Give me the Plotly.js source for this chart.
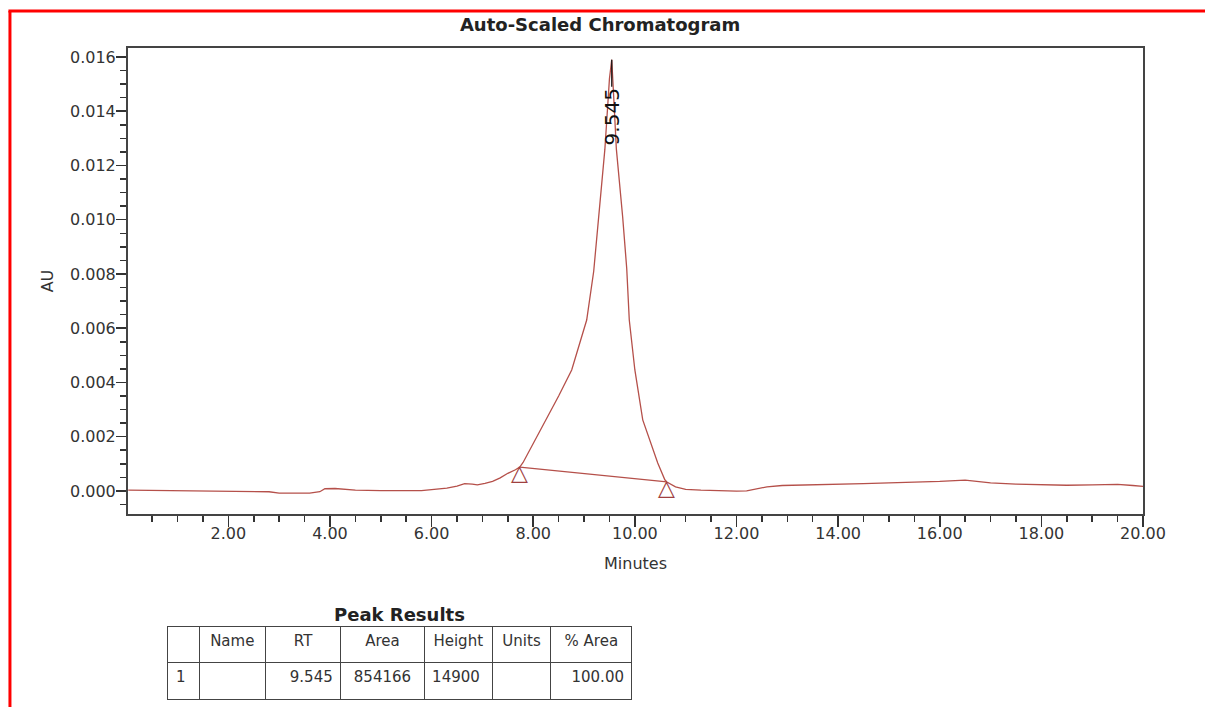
<!DOCTYPE html>
<html>
<head>
<meta charset="utf-8">
<script src="https://cdn.plot.ly/plotly-3.0.1.min.js"></script>
<style>html,body{margin:0;padding:0;background:#fff;}#chart{width:1205px;height:707px;}</style>
</head>
<body>
<div id="chart"></div>
<script>
// Chromatogram signal (minutes, AU)
const timeMin = [0.03,0.5,1.0,1.5,2.0,2.5,2.8,3.0,3.3,3.6,3.8,3.9,4.1,4.3,4.5,5.0,5.5,5.8,6.0,6.3,6.5,6.65,6.8,6.9,7.05,7.2,7.35,7.5,7.65,7.735,7.8,8.0,8.265,8.5,8.757,8.9,9.052,9.19,9.29,9.41,9.5,9.545,9.59,9.636,9.76,9.84,9.89,10.0,10.155,10.3,10.45,10.59,10.63,10.8,11.0,11.3,11.6,12.0,12.2,12.4,12.6,12.9,13.2,13.6,14.0,14.5,15.0,15.5,16.0,16.5,16.7,17.0,17.5,18.0,18.5,19.0,19.5,19.8,20.0];
const signalAU = [0.00003,0.00002,0.00001,0.00000,0.00001,0.00000,-0.00003,-0.00008,-0.00009,-0.00008,-0.00003,0.00008,0.00009,0.00007,0.00003,0.00001,0.00000,0.00001,0.00005,0.00010,0.00018,0.00027,0.00025,0.00022,0.00028,0.00035,0.00048,0.00065,0.00078,0.00088,0.00105,0.00175,0.00262,0.00350,0.00446,0.00535,0.00630,0.00810,0.01010,0.01260,0.01520,0.01590,0.01430,0.01260,0.01010,0.00820,0.00630,0.00446,0.00262,0.00180,0.00103,0.00041,0.00033,0.00015,0.00006,0.00003,0.00001,-0.00001,0.00000,0.00008,0.00015,0.00020,0.00021,0.00022,0.00024,0.00027,0.00030,0.00032,0.00035,0.00040,0.00036,0.00030,0.00025,0.00022,0.00021,0.00022,0.00024,0.00020,0.00017];

// Integration baseline (start / end markers)
const baselineTime = [7.735, 10.63];
const baselineAU = [0.00088, 0.00033];

// Peak label
const peakRT = [9.545];
const peakLabel = ['9.545'];

// Axis ticks
const xTickVals = [2,4,6,8,10,12,14,16,18,20];
const xTickText = ['2.00','4.00','6.00','8.00','10.00','12.00','14.00','16.00','18.00','20.00'];
const yTickVals = [0,0.002,0.004,0.006,0.008,0.010,0.012,0.014,0.016];
const yTickText = ['0.000','0.002','0.004','0.006','0.008','0.010','0.012','0.014','0.016'];

// Peak results table
const tableHeader = ['', 'Name', 'RT', 'Area', 'Height', 'Units', '% Area'];
const tableRow1 = ['1', '', '9.545', '854166', '14900', '', '100.00'];

const FONT = 'DejaVu Sans, Arial, sans-serif';
const LINE = '#b5504a';
const TXT = '#333333';

const peakHeight = Math.max(...signalAU);

const traces = [
  {
    x: timeMin, y: signalAU, type: 'scatter', mode: 'lines',
    line: {color: LINE, width: 1.3}, hoverinfo: 'skip', showlegend: false
  },
  {
    x: baselineTime, y: baselineAU, type: 'scatter', mode: 'lines',
    line: {color: LINE, width: 1.3}, hoverinfo: 'skip', showlegend: false
  },
  {
    type: 'table',
    domain: {x: [0.0394, 0.4966], y: [0, 0.1214]},
    columnwidth: [31, 66, 75, 83, 68, 58, 81],
    header: {
      values: tableHeader.map(v => [v]),
      align: 'center',
      height: 36,
      line: {color: '#444', width: 1},
      fill: {color: '#ffffff'},
      font: {family: FONT, size: 15, color: TXT}
    },
    cells: {
      values: tableRow1.map(v => [v]),
      align: ['left', 'center', 'right', 'center', 'left', 'center', 'right'],
      height: 37,
      line: {color: '#444', width: 1},
      fill: {color: '#ffffff'},
      font: {family: FONT, size: 15, color: TXT}
    }
  }
];

const annotations = [
  {
    x: peakRT[0], y: peakHeight, xref: 'x', yref: 'y',
    text: peakLabel[0], textangle: -90,
    font: {family: FONT, size: 20, color: '#111'},
    showarrow: true, arrowhead: 0, arrowwidth: 1.2, arrowcolor: '#111',
    ax: 0, ay: 57, standoff: 0
  },
  {
    x: 0.267, y: 0.1411, xref: 'paper', yref: 'paper',
    text: '<b>Peak Results</b>', showarrow: false,
    font: {family: FONT, size: 18, color: '#222'},
    xanchor: 'center', yanchor: 'middle'
  }
];
baselineTime.forEach((t, i) => {
  annotations.push({
    x: t, y: baselineAU[i], xref: 'x', yref: 'y',
    text: '△', showarrow: false, yanchor: 'top', yshift: 9,
    font: {family: FONT, size: 22, color: '#a04040'}
  });
});

const layout = {
  width: 1205, height: 707,
  margin: {l: 128, r: 62, t: 48, b: 0},
  paper_bgcolor: '#ffffff', plot_bgcolor: '#ffffff',
  title: {
    text: '<b>Auto-Scaled Chromatogram</b>',
    font: {family: FONT, size: 18, color: '#222'},
    x: 0.498, xref: 'container', xanchor: 'center',
    y: 0.965, yref: 'container', yanchor: 'middle'
  },
  xaxis: {
    range: [0.025, 20], showgrid: false, zeroline: false,
    tickmode: 'array', tickvals: xTickVals, ticktext: xTickText,
    ticks: 'outside', ticklen: 11, tickwidth: 1.5, tickcolor: '#333',
    ticklabelstandoff: -7,
    minor: {dtick: 0.5, tick0: 0, ticks: 'outside', ticklen: 6, tickwidth: 1.5, tickcolor: '#333', showgrid: false},
    showline: true, linecolor: '#444', linewidth: 2, mirror: true,
    tickfont: {family: FONT, size: 16, color: TXT},
    title: {text: 'Minutes', font: {family: FONT, size: 16, color: TXT}, standoff: 16},
    anchor: 'y'
  },
  yaxis: {
    domain: [0.2929, 1],
    range: [-0.00085, 0.01633], showgrid: false, zeroline: false,
    tickmode: 'array', tickvals: yTickVals, ticktext: yTickText,
    ticks: 'outside', ticklen: 10, tickwidth: 1.5, tickcolor: '#333',
    ticklabelstandoff: -3,
    minor: {dtick: 0.0005, tick0: 0, ticks: 'outside', ticklen: 6, tickwidth: 1.5, tickcolor: '#333', showgrid: false},
    showline: true, linecolor: '#444', linewidth: 2, mirror: true,
    tickfont: {family: FONT, size: 16, color: TXT},
    title: {text: 'AU', font: {family: FONT, size: 16, color: TXT}, standoff: 12}
  },
  annotations: annotations,
  shapes: [
    {type: 'line', xref: 'paper', yref: 'paper', x0: -0.1163, x1: -0.1163, y0: 1.0561, y1: -0.01, line: {color: '#ff0000', width: 3}},
    {type: 'line', xref: 'paper', yref: 'paper', x0: -0.1178, x1: 1.07, y0: 1.0561, y1: 1.0561, line: {color: '#ff0000', width: 3}}
  ],
  showlegend: false
};

Plotly.newPlot('chart', traces, layout, {displayModeBar: false, staticPlot: true});
</script>
</body>
</html>
